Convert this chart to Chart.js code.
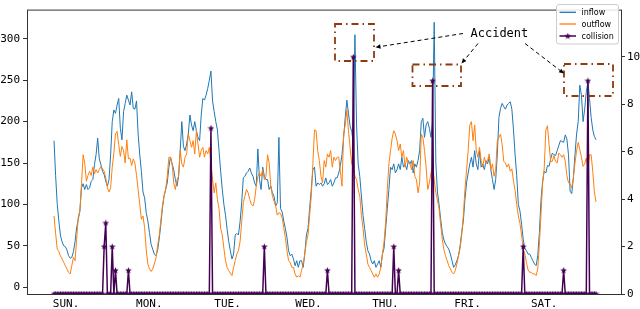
<!DOCTYPE html>
<html><head><meta charset="utf-8">
<script src="https://cdn.jsdelivr.net/npm/chart.js@4.4.1/dist/chart.umd.min.js"></script>
<style>html,body{margin:0;padding:0;background:#fff;}canvas{display:block;}</style>
</head><body>
<canvas id="c" width="640" height="309"></canvas>
<script>
// ---------------- data ----------------
const dayNames = ['SUN.','MON.','TUE.','WED.','THU.','FRI.','SAT.'];
const dayTickAt = [-0.7, 50.7, 99.1, 149.1, 196.7, 247.4, 294.8];
const leftTicks = [0,50,100,150,200,250,300];
const rightTicks = [0,2,4,6,8,10];
const seriesNames = ['inflow','outflow','collision'];

const inflow = [
177,135,100,80,62,55,50,49,45,38,
35,36,43,55,72,82,92,120,125,118,
124,118,120,128,130,148,160,180,155,148,
140,136,128,122,130,160,200,214,210,220,
228,192,178,212,222,232,226,220,236,216,
215,225,185,160,140,115,108,90,80,66,
52,46,40,38,44,58,75,95,110,118,
126,145,157,149,142,130,122,134,165,200,
170,165,173,185,208,196,189,200,189,181,
177,208,228,226,232,240,250,261,225,212,
200,190,165,140,118,100,87,70,55,44,
34,40,63,65,63,79,102,132,134,138,
140,144,138,134,126,122,167,130,118,145,
134,130,130,118,122,114,110,98,102,181,
95,91,80,71,60,44,38,40,34,26,
32,24,32,32,24,40,63,71,95,118,
142,145,122,126,124,126,122,125,132,124,
126,130,122,126,132,132,138,147,160,180,
205,226,210,195,188,175,305,196,149,134,
110,87,71,55,44,40,32,28,32,24,
28,32,24,40,47,71,95,118,145,142,
149,138,142,149,142,157,145,149,142,153,
149,153,138,149,145,153,165,200,204,181,
196,200,192,181,200,320,150,115,100,82,
66,57,52,49,46,40,32,24,27,32,
38,50,66,80,106,126,138,149,157,145,
165,149,142,165,145,149,142,153,149,157,
142,130,118,130,160,205,216,222,218,215,
220,222,224,215,190,160,135,100,92,76,
58,47,44,40,40,36,32,28,26,38,
66,105,128,140,138,147,146,155,162,160,
159,165,171,177,176,175,184,179,160,116,
113,132,160,185,200,244,232,200,215,236,
248,228,205,190,182,178];

const outflow = [
86,65,46,43,38,34,30,26,22,18,
16,26,36,32,58,85,92,125,160,150,
128,135,140,135,145,137,142,138,142,146,
143,140,132,120,115,120,145,162,185,188,
172,158,170,165,150,178,155,156,147,155,
150,135,118,100,82,86,72,45,28,22,
19,22,28,35,50,62,80,98,110,118,
134,157,157,149,126,118,130,134,165,149,
145,157,161,185,177,169,177,161,189,173,
157,165,169,157,165,161,169,149,130,114,
126,106,95,71,63,47,32,24,20,17,
14,24,32,40,44,55,79,102,110,118,
114,106,100,98,106,122,134,138,134,142,
130,134,160,150,122,110,104,98,87,90,
89,84,72,60,44,32,30,24,24,16,
12,14,12,20,28,40,55,63,87,110,
149,190,189,165,153,134,126,153,145,161,
157,165,145,157,153,157,157,140,122,185,
196,214,189,169,149,145,134,130,118,110,
87,71,51,40,28,24,20,16,12,16,
12,16,24,40,55,79,118,149,165,180,
189,185,177,165,173,157,165,145,157,150,
149,142,153,134,130,114,126,185,181,165,
145,118,126,138,145,130,114,105,95,75,
58,45,38,32,26,22,18,16,20,28,
38,47,63,87,118,142,165,196,200,177,
196,165,157,169,153,145,157,149,153,161,
142,149,134,142,177,181,185,172,152,150,
145,149,140,143,128,117,100,86,77,63,
46,40,30,21,18,18,16,16,14,22,
52,88,125,144,190,195,172,152,152,159,
152,150,162,160,157,160,152,135,126,125,
120,132,150,165,175,166,157,146,149,156,
143,160,160,140,115,103];

const collision = [
0,0,0,0,0,0,0,0,0,0,
0,0,0,0,0,0,0,0,0,0,
0,0,0,0,0,0,0,0,0,0,
0,2,3,0,0,0,2,0,1,0,
0,0,0,0,0,0,1,0,0,0,
0,0,0,0,0,0,0,0,0,0,
0,0,0,0,0,0,0,0,0,0,
0,0,0,0,0,0,0,0,0,0,
0,0,0,0,0,0,0,0,0,0,
0,0,0,0,0,0,0,7,0,0,
0,0,0,0,0,0,0,0,0,0,
0,0,0,0,0,0,0,0,0,0,
0,0,0,0,0,0,0,0,0,0,
2,0,0,0,0,0,0,0,0,0,
0,0,0,0,0,0,0,0,0,0,
0,0,0,0,0,0,0,0,0,0,
0,0,0,0,0,0,0,0,0,1,
0,0,0,0,0,0,0,0,0,0,
0,0,0,0,0,10,0,0,0,0,
0,0,0,0,0,0,0,0,0,0,
0,0,0,0,0,0,0,0,0,0,
2,0,0,1,0,0,0,0,0,0,
0,0,0,0,0,0,0,0,0,0,
0,0,0,0,9,0,0,0,0,0,
0,0,0,0,0,0,0,0,0,0,
0,0,0,0,0,0,0,0,0,0,
0,0,0,0,0,0,0,0,0,0,
0,0,0,0,0,0,0,0,0,0,
0,0,0,0,0,0,0,0,0,0,
2,0,0,0,0,0,0,0,0,0,
0,0,0,0,0,0,0,0,0,0,
0,0,0,0,0,1,0,0,0,0,
0,0,0,0,0,0,0,0,0,0,
9,0,0,0,0,0];

// ---------------- styling ----------------
const C_IN = '#1f77b4', C_OUT = '#ff7f0e', C_COL = '#440154';
const MONO = '"DejaVu Sans Mono", monospace';

function makeStar(size, color) {
  const c = document.createElement('canvas');
  c.width = size; c.height = size;
  const g = c.getContext('2d');
  const r = size / 2, ri = r * 0.42;
  g.beginPath();
  for (let k = 0; k < 10; k++) {
    const a = -Math.PI / 2 + k * Math.PI / 5;
    const rr = (k % 2) ? ri : r;
    g.lineTo(r + rr * Math.cos(a), r * 1.08 + rr * Math.sin(a));
  }
  g.closePath(); g.fillStyle = color; g.fill();
  return c;
}
const star = makeStar(7, C_COL);

const steps = inflow.map((_, i) => i);

const framePlugin = {
  id: 'frame',
  afterDatasetsDraw(chart) {
    const {ctx, chartArea: a} = chart;
    ctx.save();
    ctx.strokeStyle = '#333'; ctx.lineWidth = 1;
    ctx.strokeRect(a.left + 0.5, a.top + 0.5, a.right - a.left, a.bottom - a.top);
    ctx.restore();
  }
};

const annoBoxes = [
  {x0: 335, y0: 24, x1: 374, y1: 61},
  {x0: 412.5, y0: 64.5, x1: 461, y1: 86},
  {x0: 564, y0: 64, x1: 613, y1: 96}
];
const annoArrows = [
  {from: [463, 33.5], to: [375.5, 47.3]},
  {from: [478, 43.5], to: [461.5, 63.5]},
  {from: [525, 43.5], to: [564, 73.5]}
];
const annoText = {text: 'Accident', x: 470.5, y: 37.3};

const annotationPlugin = {
  id: 'accidentNotes',
  afterDraw(chart) {
    const ctx = chart.ctx;
    ctx.save();
    ctx.strokeStyle = '#8e3a0e'; ctx.lineWidth = 1.8;
    ctx.setLineDash([7, 4, 1.5, 4]);
    annoBoxes.forEach(b => ctx.strokeRect(b.x0, b.y0, b.x1 - b.x0, b.y1 - b.y0));
    ctx.strokeStyle = '#000'; ctx.fillStyle = '#000'; ctx.lineWidth = 1;
    annoArrows.forEach(ar => {
      const [x0, y0] = ar.from, [x1, y1] = ar.to;
      const ang = Math.atan2(y1 - y0, x1 - x0);
      const hl = 5, hw = 2.2;
      const bx = x1 - hl * Math.cos(ang), by = y1 - hl * Math.sin(ang);
      ctx.setLineDash([4, 3]);
      ctx.beginPath(); ctx.moveTo(x0, y0); ctx.lineTo(bx, by); ctx.stroke();
      ctx.setLineDash([]);
      ctx.beginPath();
      ctx.moveTo(x1, y1);
      ctx.lineTo(bx + hw * Math.sin(ang), by - hw * Math.cos(ang));
      ctx.lineTo(bx - hw * Math.sin(ang), by + hw * Math.cos(ang));
      ctx.closePath(); ctx.fill();
    });
    ctx.font = '12px ' + MONO;
    ctx.textBaseline = 'alphabetic'; ctx.textAlign = 'left';
    ctx.fillText(annoText.text, annoText.x, annoText.y);
    ctx.restore();
  }
};

const legendPlugin = {
  id: 'boxLegend',
  afterDraw(chart) {
    const ctx = chart.ctx;
    const bx = 556.5, by = 4.5, bw = 62, bh = 39.5;
    ctx.save();
    ctx.beginPath();
    ctx.roundRect(bx, by, bw, bh, 2.5);
    ctx.fillStyle = 'rgba(255,255,255,0.85)'; ctx.fill();
    ctx.strokeStyle = '#cccccc'; ctx.lineWidth = 1; ctx.stroke();
    const rows = [12.3, 24, 36];
    ctx.font = '8px "DejaVu Sans", sans-serif';
    ctx.textBaseline = 'middle';
    chart.data.datasets.forEach((ds, k) => {
      const y = rows[k];
      ctx.strokeStyle = ds.borderColor; ctx.lineWidth = k === 2 ? 1.5 : 1.3;
      ctx.beginPath(); ctx.moveTo(559.5, y); ctx.lineTo(576, y); ctx.stroke();
      if (k === 2) ctx.drawImage(star, 567.8 - star.width / 2, y - star.height / 2);
      ctx.fillStyle = '#000';
      ctx.fillText(ds.label, 581.5, y + 0.5);
    });
    ctx.restore();
  }
};

new Chart(document.getElementById('c'), {
  type: 'line',
  data: {
    labels: steps,
    datasets: [
      {label: seriesNames[0], data: inflow, borderColor: C_IN, borderWidth: 1, pointRadius: 0, yAxisID: 'y', order: 3, tension: 0},
      {label: seriesNames[1], data: outflow, borderColor: C_OUT, borderWidth: 1, pointRadius: 0, yAxisID: 'y', order: 2, tension: 0},
      {label: seriesNames[2], data: collision, borderColor: C_COL, backgroundColor: C_COL, borderWidth: 1.5,
       pointStyle: star, pointRadius: 3, yAxisID: 'y2', order: 1, tension: 0}
    ]
  },
  options: {
    responsive: false, animation: false, devicePixelRatio: 1, events: [],
    layout: {padding: {top: 2, left: 0, right: 0, bottom: 0}},
    plugins: {legend: {display: false}, tooltip: {enabled: false}},
    scales: {
      x: {
        type: 'linear', min: -16.69, max: 350.45,
        afterBuildTicks: s => { s.ticks = dayTickAt.map(v => ({value: v})); },
        afterFit: s => { s.height = 15; },
        grid: {display: false, drawTicks: false},
        border: {display: false},
        ticks: {
          autoSkip: false, maxRotation: 0, align: 'start', padding: 4,
          color: '#000', font: {family: MONO, size: 11},
          callback: (v, i) => dayNames[i]
        }
      },
      y: {
        position: 'left', min: -8.2, max: 335.3,
        afterBuildTicks: s => { s.ticks = leftTicks.map(v => ({value: v})); },
        afterFit: s => { s.width = 27; },
        grid: {drawOnChartArea: false, drawTicks: true, tickLength: 4, color: '#333'},
        border: {display: false},
        ticks: {padding: 3, color: '#000', font: {family: MONO, size: 11}}
      },
      y2: {
        position: 'right', min: 0, max: 12,
        afterBuildTicks: s => { s.ticks = rightTicks.map(v => ({value: v})); },
        afterFit: s => { s.width = 19; },
        grid: {drawOnChartArea: false, drawTicks: true, tickLength: 4, color: '#333'},
        border: {display: false},
        ticks: {padding: 2, color: '#000', font: {family: MONO, size: 11}}
      }
    }
  },
  plugins: [framePlugin, annotationPlugin, legendPlugin]
});
</script>
</body></html>
